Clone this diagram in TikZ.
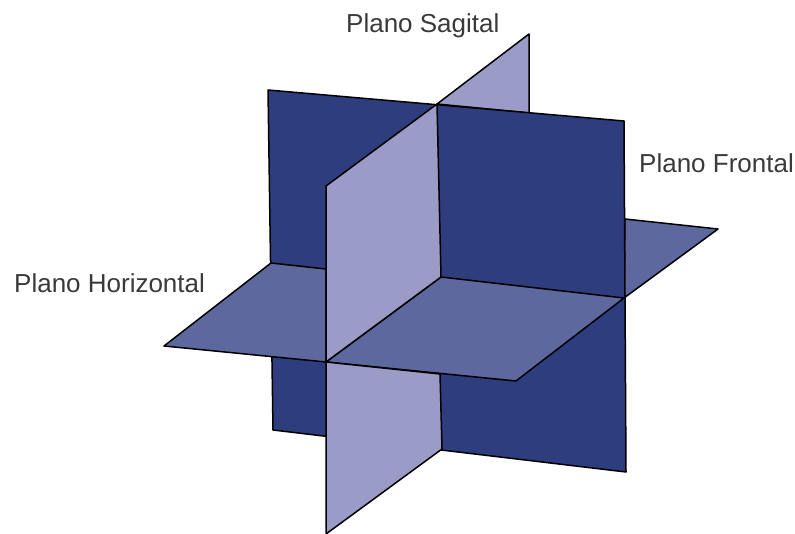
\documentclass[tikz,border=0pt]{standalone}
\usepackage{fontspec}
\setmainfont{Liberation Sans}
\definecolor{planedark}{HTML}{2D3D7D}
\definecolor{planemid}{HTML}{5D689F}
\definecolor{planelight}{HTML}{9B9BC8}
\definecolor{labeltext}{HTML}{3A3A3A}
\tikzset{
  plane/.style={draw=black,line width=1.5pt,line join=round},
  planelabel/.style={inner sep=0pt,text=labeltext,font=\fontsize{26}{28}\selectfont,anchor=base west}
}
\begin{document}
\begin{tikzpicture}[x=1pt,y=-1pt]
\useasboundingbox (0,0) rectangle (795,534);
% horizontal plane, part behind the frontal plane
\filldraw[plane,fill=planemid] (625,219) -- (718,229) -- (624,298) -- cycle;
% sagittal plane, part behind the frontal plane
\filldraw[plane,fill=planelight] (437,104) -- (529,34) -- (529,113) -- cycle;
% frontal plane
\filldraw[plane,fill=planedark] (268,90) -- (624,121) -- (626,472) -- (273,430) -- cycle;
% horizontal plane, front quadrants
\filldraw[plane,fill=planemid] (271,263) -- (326,269) -- (326,362) -- (164,346) -- cycle;
\filldraw[plane,fill=planemid] (441,277) -- (624,298) -- (516,381) -- (326,362) -- cycle;
% sagittal plane, front parts
\filldraw[plane,fill=planelight] (326,186) -- (437,104) -- (441,277) -- (326,362) -- cycle;
\filldraw[plane,fill=planelight] (326,362) -- (440,374) -- (442,449) -- (326,534) -- cycle;
% labels
\node[planelabel] (sagital) at (346,33) {Plano Sagital};
\node[planelabel] (frontal) at (639,173) {Plano Frontal};
\node[planelabel] (horizontal) at (14,293) {Plano Horizontal};
\end{tikzpicture}
\end{document}
